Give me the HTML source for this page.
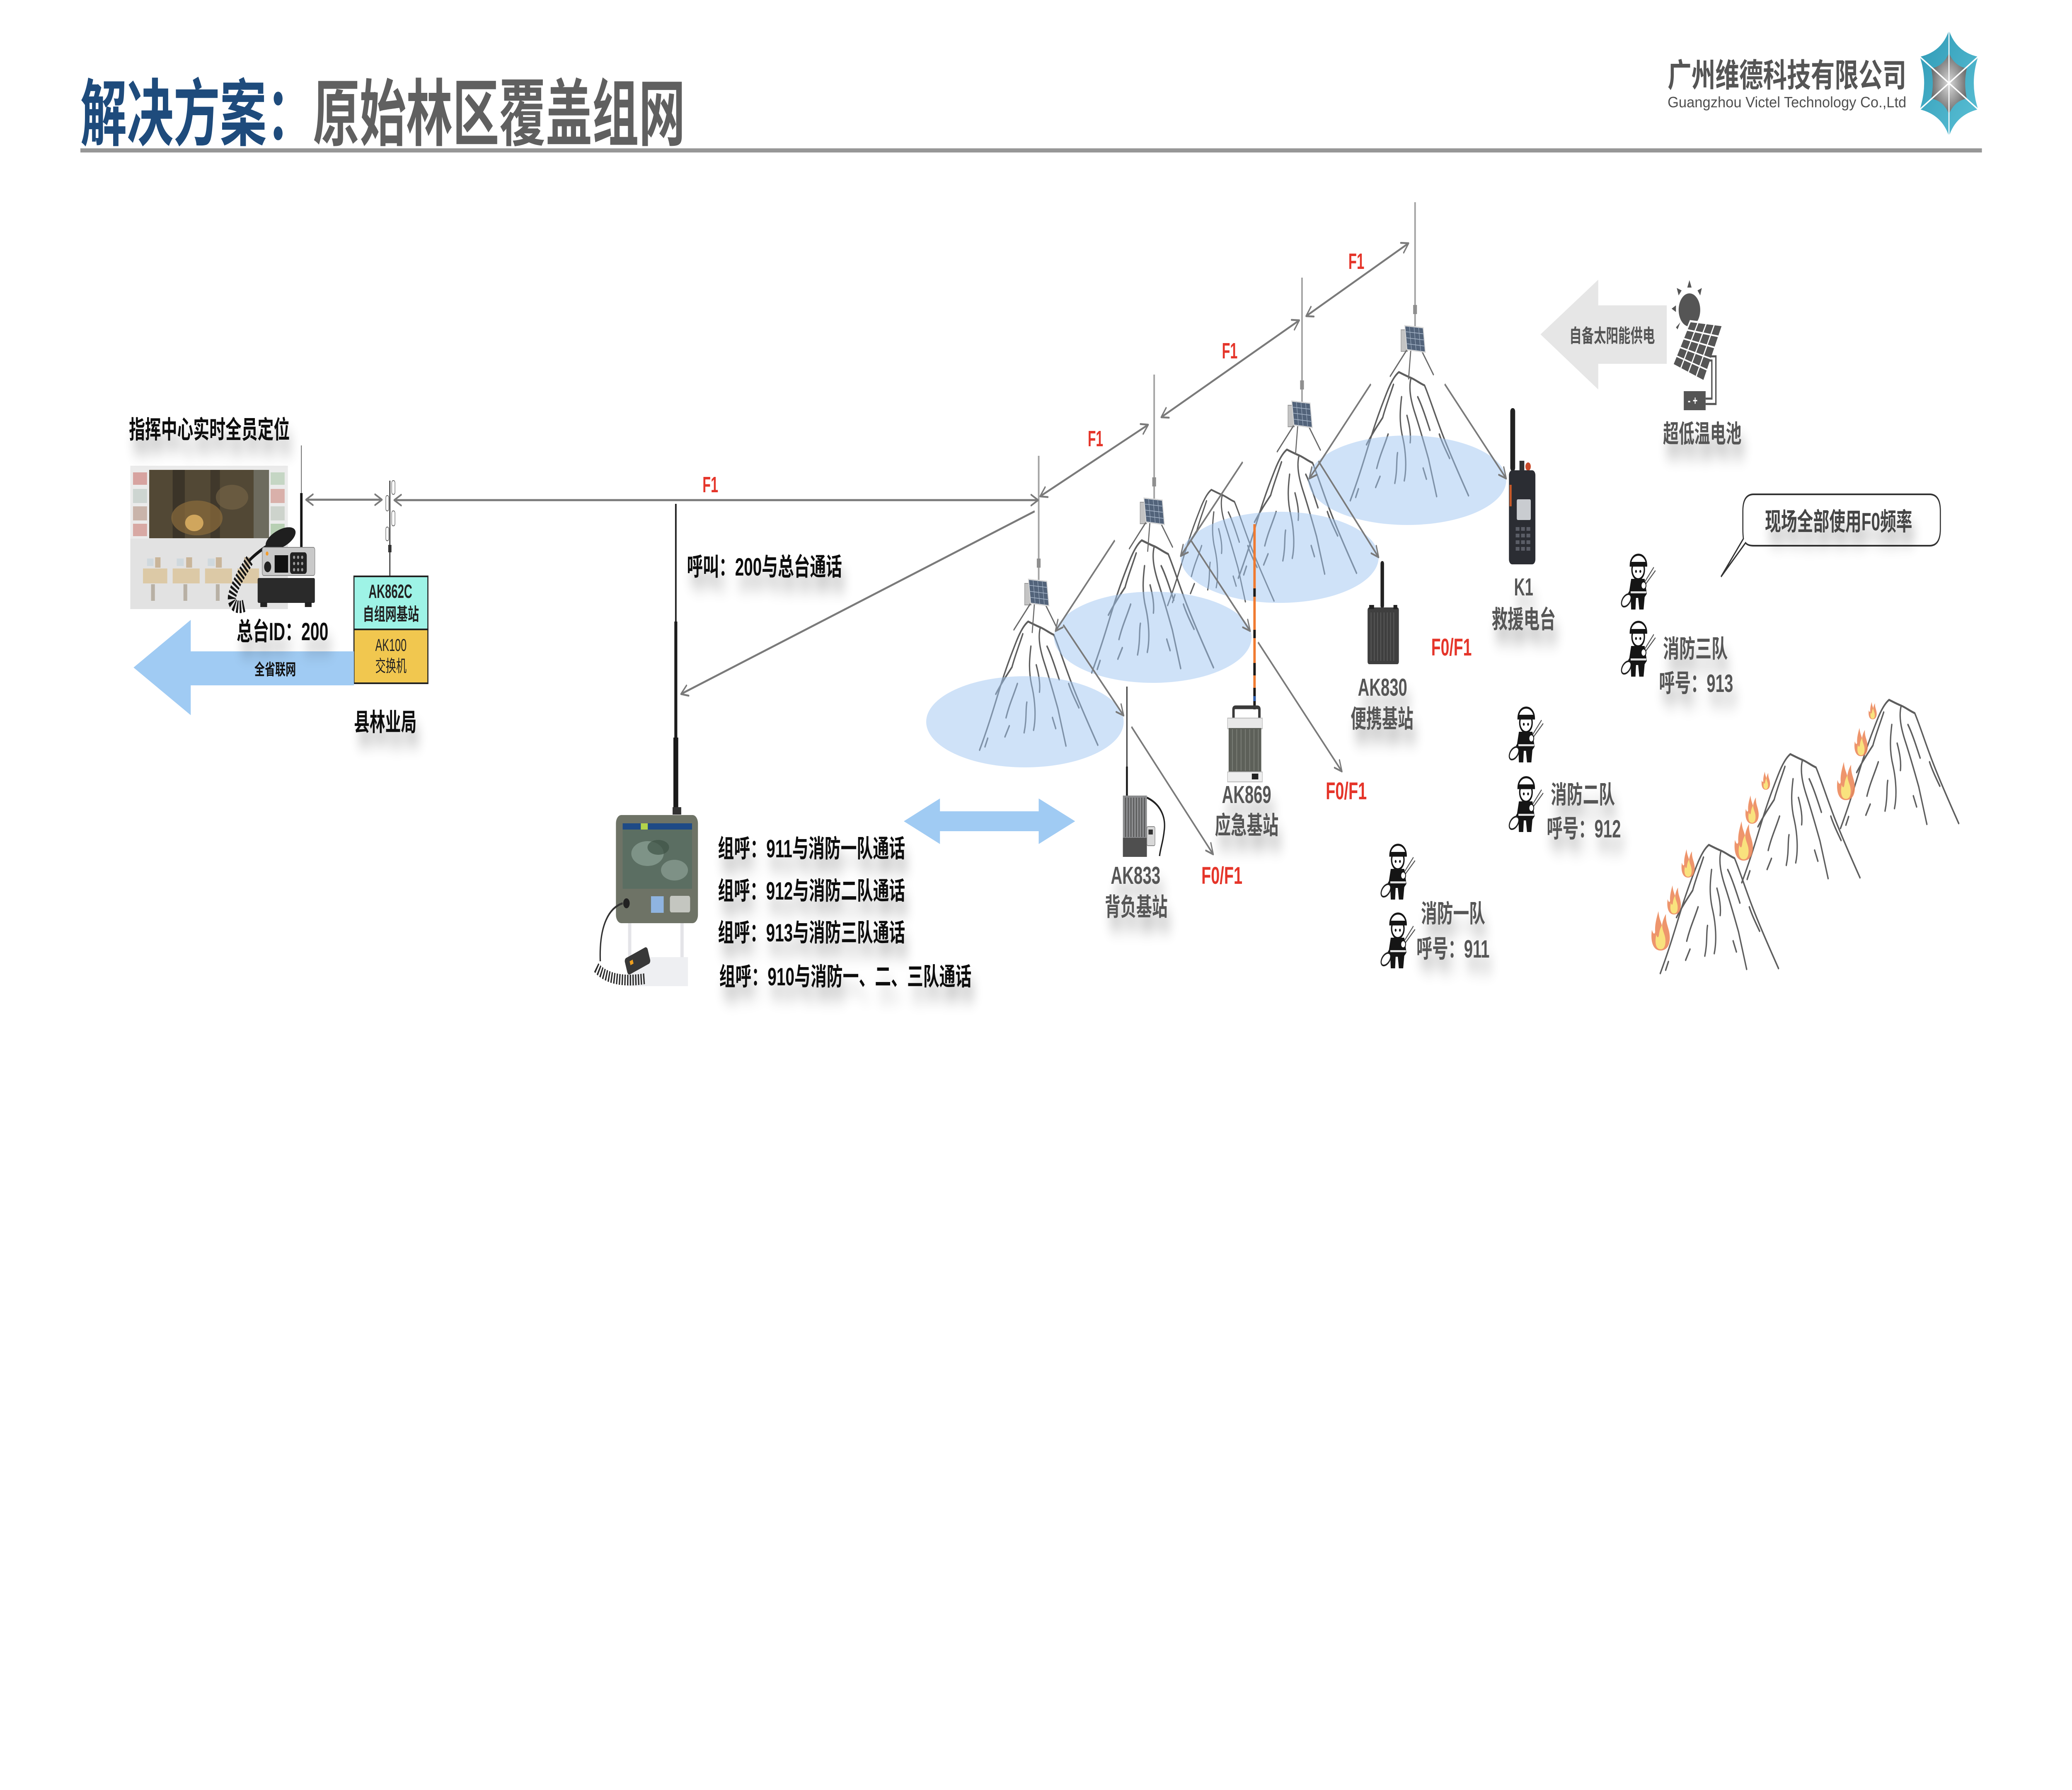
<!DOCTYPE html>
<html lang="zh-CN"><head><meta charset="utf-8"><title>解决方案：原始林区覆盖组网</title>
<style>
html,body{margin:0;padding:0;background:#ffffff;width:100%;height:100%;overflow:hidden;}
svg{display:block;width:100vw;height:100vh;}
text{font-family:"Liberation Sans","Noto Sans CJK SC",sans-serif;}
</style></head><body>
<svg viewBox="0 0 7680 4320" preserveAspectRatio="none" xmlns="http://www.w3.org/2000/svg">
<defs>
<marker id="ah" viewBox="0 0 32 32" refX="29" refY="16" markerWidth="32" markerHeight="32" markerUnits="userSpaceOnUse" orient="auto-start-reverse">
<path d="M3,3 L29,16 L3,29" fill="none" stroke="#7a7a7a" stroke-width="4.5" stroke-linecap="round" stroke-linejoin="round"/>
</marker>
<filter id="sh" x="-30%" y="-60%" width="160%" height="320%">
<feGaussianBlur in="SourceAlpha" stdDeviation="18" result="bl"/>
<feOffset in="bl" dx="12" dy="34" result="of"/>
<feComponentTransfer in="of" result="sd"><feFuncA type="linear" slope="0.3"/></feComponentTransfer>
<feMerge><feMergeNode in="sd"/><feMergeNode in="SourceGraphic"/></feMerge>
</filter>
<radialGradient id="lg" cx="0.5" cy="0.5" r="0.5"><stop offset="0" stop-color="#d9d9d9"/><stop offset="1" stop-color="#6e6e6e"/></radialGradient>
<linearGradient id="tl" x1="0" y1="0" x2="1" y2="1"><stop offset="0" stop-color="#2f9ab6"/><stop offset="1" stop-color="#5cc1d6"/></linearGradient>
<g id="mtn" fill="none" stroke="#5e5e5e" stroke-width="5" stroke-linecap="round" stroke-linejoin="round">
<path d="M-180,310 C-140,240 -115,180 -95,140 C-75,100 -60,75 -45,50 C-30,25 -15,8 0,0 C15,5 30,10 45,14 C60,18 80,28 95,32 C110,55 130,95 150,130 C175,175 215,235 258,298"/>
<path d="M45,14 C35,40 45,70 60,100 C75,130 95,175 110,210 C120,240 130,270 140,300"/>
<path d="M-20,30 C-35,60 -50,85 -60,110 C-80,130 -100,150 -120,175"/>
<path d="M10,60 C5,90 0,120 15,160 C25,190 30,230 20,262"/>
<path d="M-40,150 C-55,180 -70,200 -82,232"/>
<path d="M70,60 C85,80 100,110 115,140"/>
<path d="M-5,195 C-10,215 -5,235 -15,268"/>
<path d="M150,150 C160,170 175,190 188,208"/>
<path d="M-70,252 L-86,278 M90,232 L102,258 M-150,282 L-160,302 M30,105 C40,130 45,150 42,170"/>
</g>
<g id="stn">
<line x1="0" y1="-298" x2="0" y2="2" stroke="#a3a3a3" stroke-width="6"/>
<rect x="-7" y="-50" width="14" height="22" fill="#8f8f8f"/>
<rect x="-52" y="10" width="24" height="52" fill="#c4c4c4" stroke="#9a9a9a" stroke-width="2"/>
<g stroke="#6a6a6a" stroke-width="4" stroke-linecap="round"><line x1="-30" y1="58" x2="-92" y2="122"/><line x1="-16" y1="60" x2="-24" y2="128"/><line x1="24" y1="60" x2="68" y2="118"/></g>
<polygon points="-38,0 30,5 38,64 -30,58" fill="#52637a" stroke="#d8d8d8" stroke-width="3"/>
<g stroke="#a6b5c8" stroke-width="1.6"><line x1="-36" y1="14.5" x2="32" y2="19.7"/><line x1="-34" y1="29" x2="34" y2="34.5"/><line x1="-32" y1="43.5" x2="36" y2="49.2"/><line x1="-21" y1="1.2" x2="-13" y2="59.5"/><line x1="-4" y1="2.5" x2="4" y2="61"/><line x1="13" y1="3.7" x2="21" y2="62.5"/></g>
</g>
<g id="ff">
<path d="M30,118 C45,100 55,92 78,88" fill="none" stroke="#222" stroke-width="12"/>
<path d="M30,118 C45,100 55,92 78,88" fill="none" stroke="#fff" stroke-width="5"/>
<ellipse cx="22" cy="128" rx="20" ry="12" fill="#fff" stroke="#222" stroke-width="4" transform="rotate(-35 22 128)"/>
<path d="M40,76 L90,76 L98,112 L90,120 L86,150 L70,150 L66,122 L58,122 L56,150 L40,150 L38,118 L32,110 Z" fill="#151515"/>
<rect x="38" y="106" width="58" height="5" fill="#e0e0e0"/>
<circle cx="66" cy="54" r="23" fill="#fff" stroke="#151515" stroke-width="5"/>
<path d="M37,44 C37,9 97,9 97,44 Z" fill="#fff" stroke="#151515" stroke-width="5"/>
<rect x="37" y="35" width="60" height="10" fill="#151515"/>
<circle cx="58" cy="58" r="3.5" fill="#151515"/><circle cx="74" cy="58" r="3.5" fill="#151515"/>
<line x1="86" y1="88" x2="124" y2="48" stroke="#555" stroke-width="3"/><line x1="90" y1="92" x2="130" y2="56" stroke="#555" stroke-width="3"/>
<circle cx="86" cy="92" r="9" fill="#fff" stroke="#151515" stroke-width="3"/>
</g>
<g id="flame">
<path d="M0,0 C-30,0 -38,-25 -32,-50 C-28,-40 -22,-38 -20,-45 C-22,-62 -15,-78 -8,-95 C-5,-75 2,-70 5,-60 C8,-72 14,-82 20,-88 C18,-65 32,-55 34,-35 C36,-15 25,0 0,0 Z" fill="#ec8a5c" opacity="0.9"/>
<path d="M0,-3 C-18,-3 -22,-20 -16,-38 C-12,-30 -8,-30 -6,-38 C-4,-50 2,-58 6,-62 C6,-45 20,-38 18,-20 C17,-8 10,-3 0,-3 Z" fill="#f9e27e"/>
</g>
</defs>

<!-- HEADER -->
<text x="298" y="337" font-size="176" font-weight="bold" textLength="2242" lengthAdjust="spacingAndGlyphs"><tspan fill="#1e4b7c">解决方案：</tspan><tspan fill="#606060">原始林区覆盖组网</tspan></text>
<rect x="298" y="358" width="7048" height="10" fill="#979797"/>
<text x="6181" y="209" font-size="78" font-weight="bold" fill="#555555" textLength="885" lengthAdjust="spacingAndGlyphs">广州维德科技有限公司</text>
<text x="6181" y="259" font-size="36" fill="#4f4f4f" textLength="885" lengthAdjust="spacingAndGlyphs">Guangzhou Victel Technology Co.,Ltd</text>
<path d="M7224,73 Q7250,125 7332,137 Q7300,200 7332,264 Q7250,277 7224,329 Q7198,277 7116,264 Q7148,200 7116,137 Q7198,125 7224,73 Z" fill="url(#tl)"/>
<path d="M7224,128 Q7245,160 7290,165 Q7278,200 7290,238 Q7245,243 7224,275 Q7203,243 7158,238 Q7170,200 7158,165 Q7203,160 7224,128 Z" fill="url(#lg)"/>
<g stroke="#ffffff" stroke-width="4"><line x1="7224" y1="73" x2="7224" y2="329"/><line x1="7116" y1="137" x2="7332" y2="264"/><line x1="7332" y1="137" x2="7116" y2="264"/></g>

<!-- LEFT: command center -->
<g>
<rect x="483" y="1124" width="584" height="346" fill="#ebebeb"/>
<rect x="483" y="1300" width="584" height="170" fill="#e2e2e2"/>
<rect x="553" y="1134" width="444" height="165" fill="#524835"/>
<rect x="640" y="1134" width="45" height="165" fill="#3b3428"/>
<rect x="780" y="1134" width="35" height="165" fill="#40382b"/>
<ellipse cx="730" cy="1250" rx="95" ry="42" fill="#8c6c3c" opacity="0.7"/>
<ellipse cx="720" cy="1262" rx="34" ry="20" fill="#e6b866" opacity="0.8"/>
<ellipse cx="860" cy="1200" rx="60" ry="30" fill="#7a6848" opacity="0.6"/>
<rect x="940" y="1134" width="57" height="165" fill="#6d6b5e"/>
<rect x="493" y="1140" width="52" height="30" fill="#d7a3a0"/><rect x="493" y="1180" width="52" height="34" fill="#cdd5d1"/><rect x="493" y="1222" width="52" height="34" fill="#c9b4aa"/><rect x="493" y="1264" width="52" height="30" fill="#d8a9a4"/>
<rect x="1003" y="1140" width="52" height="30" fill="#c5d6c4"/><rect x="1003" y="1180" width="52" height="34" fill="#d9b0aa"/><rect x="1003" y="1222" width="52" height="34" fill="#cdd3cc"/><rect x="1003" y="1264" width="52" height="30" fill="#b7cfb3"/>
<g fill="#dcc9a6"><rect x="530" y="1372" width="90" height="36"/><rect x="640" y="1372" width="100" height="36"/><rect x="760" y="1372" width="100" height="36"/><rect x="880" y="1372" width="80" height="36"/></g>
<g fill="#c9b59a"><rect x="575" y="1345" width="20" height="25"/><rect x="690" y="1345" width="22" height="25"/><rect x="800" y="1345" width="22" height="25"/><rect x="905" y="1345" width="20" height="25"/></g>
<g fill="#cfd8dd"><rect x="545" y="1348" width="24" height="18"/><rect x="655" y="1348" width="26" height="18"/><rect x="770" y="1348" width="26" height="18"/></g>
<g fill="#b8b0a4"><rect x="560" y="1410" width="14" height="40"/><rect x="680" y="1410" width="14" height="40"/><rect x="800" y="1410" width="14" height="40"/></g>
</g>
<!-- command radio -->
<g>
<line x1="1117" y1="1075" x2="1117" y2="1195" stroke="#6a6a6a" stroke-width="3"/>
<line x1="1117" y1="1190" x2="1117" y2="1322" stroke="#151515" stroke-width="9"/>
<path d="M925,1352 C900,1380 870,1410 860,1440 C855,1460 880,1470 905,1462" fill="none" stroke="#151515" stroke-width="30" stroke-dasharray="6 5"/>
<path d="M990,1318 C960,1330 935,1345 925,1352" fill="none" stroke="#151515" stroke-width="8"/>
<ellipse cx="1040" cy="1300" rx="58" ry="22" fill="#1f1f1f" transform="rotate(-18 1040 1300)"/>
<rect x="955" y="1395" width="212" height="60" rx="4" fill="#2a2a2a"/>
<rect x="965" y="1453" width="25" height="12" fill="#222"/><rect x="1130" y="1453" width="25" height="12" fill="#222"/>
<rect x="972" y="1321" width="195" height="68" rx="6" fill="#c9c9c9" stroke="#8a8a8a" stroke-width="2"/>
<rect x="1018" y="1340" width="50" height="42" fill="#111"/>
<rect x="1075" y="1333" width="62" height="52" rx="8" fill="#222"/>
<g fill="#999"><circle cx="1090" cy="1345" r="4"/><circle cx="1105" cy="1345" r="4"/><circle cx="1120" cy="1345" r="4"/><circle cx="1090" cy="1360" r="4"/><circle cx="1105" cy="1360" r="4"/><circle cx="1120" cy="1360" r="4"/><circle cx="1090" cy="1375" r="4"/><circle cx="1105" cy="1375" r="4"/><circle cx="1120" cy="1375" r="4"/></g>
<circle cx="992" cy="1368" r="13" fill="#222"/>
<circle cx="990" cy="1336" r="5" fill="#f39c2c"/>
</g>
<!-- tower -->
<g>
<line x1="1445" y1="1160" x2="1445" y2="1391" stroke="#333" stroke-width="4"/>
<g fill="#fff" stroke="#666" stroke-width="2"><rect x="1430" y="1196" width="11" height="37" rx="5"/><rect x="1452" y="1160" width="12" height="33" rx="5"/><rect x="1452" y="1233" width="12" height="36" rx="5"/><rect x="1430" y="1272" width="11" height="33" rx="5"/></g>
<rect x="1439" y="1315" width="12" height="18" fill="#333"/>
</g>
<!-- AK862C box -->
<rect x="1312" y="1391" width="274" height="128" fill="#9ef3e6" stroke="#222" stroke-width="4"/>
<rect x="1312" y="1519" width="274" height="130" fill="#f1c74f" stroke="#222" stroke-width="4"/>
<text x="1366" y="1443" font-size="46" font-weight="bold" fill="#222" textLength="162" lengthAdjust="spacingAndGlyphs">AK862C</text>
<text x="1345" y="1497" font-size="42" font-weight="bold" fill="#222" textLength="208" lengthAdjust="spacingAndGlyphs">自组网基站</text>
<text x="1391" y="1571" font-size="42" fill="#222" textLength="116" lengthAdjust="spacingAndGlyphs">AK100</text>
<text x="1391" y="1621" font-size="40" fill="#222" textLength="116" lengthAdjust="spacingAndGlyphs">交换机</text>
<!-- big blue arrow -->
<polygon points="495,1611 707,1496 707,1572 1312,1572 1312,1654 707,1654 707,1726" fill="#a0cbf3"/>
<text x="943" y="1629" font-size="38" font-weight="bold" fill="#111" textLength="154" lengthAdjust="spacingAndGlyphs">全省联网</text>

<g filter="url(#sh)" font-weight="bold" fill="#111">
<text x="478" y="1058" font-size="60" textLength="596" lengthAdjust="spacingAndGlyphs">指挥中心实时全员定位</text>
<text x="877" y="1545" font-size="60" textLength="340" lengthAdjust="spacingAndGlyphs">总台ID：200</text>
<text x="1312" y="1764" font-size="60" textLength="232" lengthAdjust="spacingAndGlyphs">县林业局</text>
<text x="2546" y="1389" font-size="60" textLength="575" lengthAdjust="spacingAndGlyphs">呼叫：200与总台通话</text>
<text x="2661" y="2069" font-size="60" textLength="694" lengthAdjust="spacingAndGlyphs">组呼：911与消防一队通话</text>
<text x="2661" y="2171" font-size="60" textLength="694" lengthAdjust="spacingAndGlyphs">组呼：912与消防二队通话</text>
<text x="2661" y="2272" font-size="60" textLength="694" lengthAdjust="spacingAndGlyphs">组呼：913与消防三队通话</text>
<text x="2666" y="2378" font-size="60" textLength="935" lengthAdjust="spacingAndGlyphs">组呼：910与消防一、二、三队通话</text>
</g>

<!-- tablet device -->
<g>
<line x1="2505" y1="1216" x2="2505" y2="1500" stroke="#222" stroke-width="6"/>
<line x1="2505" y1="1500" x2="2505" y2="1780" stroke="#1c1c1c" stroke-width="11"/>
<line x1="2505" y1="1780" x2="2505" y2="1955" stroke="#1a1a1a" stroke-width="18"/>
<rect x="2493" y="1948" width="32" height="18" fill="#333"/>
<rect x="2328" y="2220" width="12" height="100" fill="#e4e4e8"/><rect x="2522" y="2220" width="12" height="100" fill="#e4e4e8"/>
<rect x="2327" y="2310" width="223" height="70" fill="#eeeff2"/>
<rect x="2283" y="1967" width="304" height="261" rx="20" fill="#6e7366"/>
<rect x="2308" y="1987" width="257" height="158" fill="#5b6e62"/>
<rect x="2308" y="1987" width="257" height="15" fill="#1e4a86"/>
<rect x="2375" y="1987" width="26" height="15" fill="#b4d34a"/>
<ellipse cx="2400" cy="2060" rx="60" ry="30" fill="#8da297" opacity="0.7"/>
<ellipse cx="2500" cy="2100" rx="50" ry="25" fill="#96a99e" opacity="0.6"/>
<ellipse cx="2440" cy="2045" rx="40" ry="18" fill="#3e5246" opacity="0.7"/>
<rect x="2413" y="2163" width="47" height="40" fill="#8fb4e0"/>
<rect x="2483" y="2162" width="75" height="40" rx="6" fill="#c4c6c0"/>
<circle cx="2322" cy="2180" r="12" fill="#222"/>
<path d="M2308,2180 C2260,2190 2220,2230 2225,2320" fill="none" stroke="#333" stroke-width="5"/>
<path d="M2210,2335 C2250,2365 2320,2370 2390,2362" fill="none" stroke="#2b2b2b" stroke-width="26" stroke-dasharray="5 5"/>
<rect x="2318" y="2298" width="90" height="42" rx="8" fill="#383838" transform="rotate(-20 2363 2319)"/>
<rect x="2335" y="2310" width="12" height="10" fill="#f0a020" transform="rotate(-20 2363 2319)"/>
</g>

<!-- mountains -->
<use href="#mtn" transform="translate(3811,1500)"/>
<use href="#mtn" transform="translate(4232,1304) scale(1.03)"/>
<use href="#mtn" transform="translate(4490,1182) scale(0.9)"/>
<use href="#mtn" transform="translate(4770,1085)"/>
<use href="#mtn" transform="translate(5185,898)"/>
<!-- coverage ellipses -->
<g fill="rgb(159,197,241)" fill-opacity="0.5">
<ellipse cx="3799" cy="1742" rx="366" ry="110"/>
<ellipse cx="4273" cy="1538" rx="366" ry="110"/>
<ellipse cx="4743" cy="1345" rx="367" ry="110"/>
<ellipse cx="5216" cy="1159" rx="367" ry="108"/>
</g>
<!-- stations -->
<use href="#stn" transform="translate(3850,1398)"/>
<use href="#stn" transform="translate(4278,1202)"/>
<use href="#stn" transform="translate(4826,968)"/>
<use href="#stn" transform="translate(5245,786)"/>

<!-- connector lines -->
<g stroke="#7a7a7a" stroke-width="5" fill="none">
<line x1="1134" y1="1206" x2="1416" y2="1206" marker-start="url(#ah)" marker-end="url(#ah)"/>
<line x1="1461" y1="1207" x2="3848" y2="1207" marker-start="url(#ah)" marker-end="url(#ah)"/>
<line x1="3835" y1="1234" x2="2524" y2="1675" marker-end="url(#ah)"/>
<line x1="3855" y1="1198" x2="4256" y2="1025" marker-start="url(#ah)" marker-end="url(#ah)"/>
<line x1="4304" y1="1007" x2="4816" y2="773" marker-start="url(#ah)" marker-end="url(#ah)"/>
<line x1="4841" y1="763" x2="5221" y2="587" marker-start="url(#ah)" marker-end="url(#ah)"/>
<line x1="3941" y1="1508" x2="4165" y2="1727" marker-end="url(#ah)"/>
<line x1="4194" y1="1754" x2="4497" y2="2062" marker-end="url(#ah)"/>
<line x1="4132" y1="1304" x2="3912" y2="1523" marker-end="url(#ah)"/>
<line x1="4414" y1="1304" x2="4634" y2="1523" marker-end="url(#ah)"/>
<line x1="4663" y1="1550" x2="4974" y2="1862" marker-end="url(#ah)"/>
<line x1="4606" y1="1115" x2="4376" y2="1342" marker-end="url(#ah)"/>
<line x1="4887" y1="1113" x2="5110" y2="1345" marker-end="url(#ah)"/>
<line x1="5081" y1="927" x2="4853" y2="1155" marker-end="url(#ah)"/>
<line x1="5355" y1="927" x2="5583" y2="1155" marker-end="url(#ah)"/>
</g>

<!-- double blue arrow -->
<polygon points="3350,1982 3484,1927 3484,1958 3850,1958 3850,1927 3985,1982 3850,2037 3850,2006 3484,2006 3484,2037" fill="#a0cbf3"/>

<!-- F labels -->
<g font-weight="bold" fill="#e5352a">
<text x="2604" y="1188" font-size="54" textLength="58" lengthAdjust="spacingAndGlyphs">F1</text>
<text x="4032" y="1077" font-size="54" textLength="57" lengthAdjust="spacingAndGlyphs">F1</text>
<text x="4529" y="865" font-size="54" textLength="58" lengthAdjust="spacingAndGlyphs">F1</text>
<text x="4998" y="649" font-size="54" textLength="59" lengthAdjust="spacingAndGlyphs">F1</text>
<text x="4453" y="2133" font-size="58" textLength="152" lengthAdjust="spacingAndGlyphs">F0/F1</text>
<text x="4914" y="1929" font-size="58" textLength="152" lengthAdjust="spacingAndGlyphs">F0/F1</text>
<text x="5305" y="1582" font-size="58" textLength="150" lengthAdjust="spacingAndGlyphs">F0/F1</text>
</g>

<!-- AK833 -->
<g>
<line x1="4177" y1="1657" x2="4177" y2="1850" stroke="#222" stroke-width="4"/>
<line x1="4177" y1="1850" x2="4177" y2="1921" stroke="#1a1a1a" stroke-width="7"/>
<path d="M4251,1925 C4300,1940 4320,1970 4316,2000 C4312,2030 4300,2050 4298,2066" fill="none" stroke="#222" stroke-width="5"/>
<rect x="4162" y="1920" width="89" height="102" fill="#8a8b8d"/>
<g stroke="#4a4a4a" stroke-width="3"><line x1="4172" y1="1925" x2="4172" y2="2020"/><line x1="4182" y1="1925" x2="4182" y2="2020"/><line x1="4192" y1="1925" x2="4192" y2="2020"/><line x1="4202" y1="1925" x2="4202" y2="2020"/><line x1="4212" y1="1925" x2="4212" y2="2020"/><line x1="4222" y1="1925" x2="4222" y2="2020"/><line x1="4232" y1="1925" x2="4232" y2="2020"/><line x1="4242" y1="1925" x2="4242" y2="2020"/></g>
<rect x="4162" y="2022" width="89" height="46" fill="#4f4f4f"/>
<rect x="4251" y="1995" width="30" height="46" rx="4" fill="#d8d8d8" stroke="#888" stroke-width="2"/>
<rect x="4257" y="2002" width="16" height="12" fill="#333"/>
</g>
<!-- AK869 -->
<g>
<line x1="4650" y1="1265" x2="4650" y2="1712" stroke="#f07a30" stroke-width="9"/>
<g stroke="#1a1a1a" stroke-width="9"><line x1="4650" y1="1420" x2="4650" y2="1440"/><line x1="4650" y1="1520" x2="4650" y2="1540"/><line x1="4650" y1="1600" x2="4650" y2="1630"/><line x1="4650" y1="1660" x2="4650" y2="1712"/></g>
<line x1="4650" y1="1680" x2="4650" y2="1692" stroke="#2d5fb0" stroke-width="9"/>
<path d="M4572,1740 V1712 Q4572,1707 4580,1707 H4660 Q4668,1707 4668,1712 V1740" fill="none" stroke="#3a3a3a" stroke-width="9"/>
<rect x="4550" y="1733" width="129" height="26" fill="#e8e8e8" stroke="#bbb" stroke-width="2"/>
<rect x="4554" y="1757" width="121" height="106" fill="#5d6059"/>
<g stroke="#7b7e77" stroke-width="3"><line x1="4568" y1="1760" x2="4568" y2="1860"/><line x1="4584" y1="1760" x2="4584" y2="1860"/><line x1="4600" y1="1760" x2="4600" y2="1860"/><line x1="4616" y1="1760" x2="4616" y2="1860"/><line x1="4632" y1="1760" x2="4632" y2="1860"/><line x1="4648" y1="1760" x2="4648" y2="1860"/><line x1="4664" y1="1760" x2="4664" y2="1860"/></g>
<rect x="4550" y="1863" width="129" height="24" fill="#eeeeee" stroke="#bbb" stroke-width="2"/>
<rect x="4640" y="1867" width="24" height="14" fill="#222"/>
</g>
<!-- AK830 -->
<g>
<rect x="5117" y="1354" width="13" height="114" rx="6" fill="#222"/>
<rect x="5069" y="1466" width="116" height="137" rx="6" fill="#3f3f3f"/>
<g stroke="#5a5a5a" stroke-width="3"><line x1="5082" y1="1478" x2="5082" y2="1595"/><line x1="5094" y1="1478" x2="5094" y2="1595"/><line x1="5106" y1="1478" x2="5106" y2="1595"/><line x1="5118" y1="1478" x2="5118" y2="1595"/><line x1="5130" y1="1478" x2="5130" y2="1595"/><line x1="5142" y1="1478" x2="5142" y2="1595"/><line x1="5154" y1="1478" x2="5154" y2="1595"/><line x1="5166" y1="1478" x2="5166" y2="1595"/></g>
<rect x="5075" y="1460" width="18" height="10" fill="#222"/><rect x="5165" y="1460" width="14" height="10" fill="#222"/>
</g>
<!-- K1 -->
<g>
<rect x="5598" y="985" width="18" height="152" rx="8" fill="#222"/>
<rect x="5632" y="1112" width="18" height="28" fill="#333"/>
<circle cx="5664" cy="1126" r="10" fill="#c94a2a"/>
<rect x="5593" y="1135" width="98" height="227" rx="12" fill="#2b2d33"/>
<rect x="5595" y="1170" width="8" height="52" fill="#c85a2a"/>
<rect x="5622" y="1205" width="52" height="50" rx="4" fill="#c9ccd0"/>
<g fill="#5a5d66"><rect x="5618" y="1272" width="14" height="9"/><rect x="5638" y="1272" width="14" height="9"/><rect x="5658" y="1272" width="14" height="9"/><rect x="5618" y="1288" width="14" height="9"/><rect x="5638" y="1288" width="14" height="9"/><rect x="5658" y="1288" width="14" height="9"/><rect x="5618" y="1304" width="14" height="9"/><rect x="5638" y="1304" width="14" height="9"/><rect x="5658" y="1304" width="14" height="9"/><rect x="5618" y="1320" width="14" height="9"/><rect x="5638" y="1320" width="14" height="9"/><rect x="5658" y="1320" width="14" height="9"/></g>
</g>

<!-- device labels -->
<g filter="url(#sh)" font-weight="bold" fill="#575757">
<text x="4117" y="2133" font-size="59" textLength="184" lengthAdjust="spacingAndGlyphs">AK833</text>
<text x="4095" y="2210" font-size="60" textLength="233" lengthAdjust="spacingAndGlyphs">背负基站</text>
<text x="4529" y="1938" font-size="59" textLength="183" lengthAdjust="spacingAndGlyphs">AK869</text>
<text x="4503" y="2013" font-size="60" textLength="236" lengthAdjust="spacingAndGlyphs">应急基站</text>
<text x="5033" y="1679" font-size="59" textLength="183" lengthAdjust="spacingAndGlyphs">AK830</text>
<text x="5006" y="1756" font-size="60" textLength="233" lengthAdjust="spacingAndGlyphs">便携基站</text>
<text x="5612" y="1437" font-size="59" textLength="71" lengthAdjust="spacingAndGlyphs">K1</text>
<text x="5529" y="1516" font-size="60" textLength="237" lengthAdjust="spacingAndGlyphs">救援电台</text>
<text x="6164" y="1587" font-size="60" textLength="240" lengthAdjust="spacingAndGlyphs">消防三队</text>
<text x="6149" y="1670" font-size="60" textLength="275" lengthAdjust="spacingAndGlyphs">呼号：913</text>
<text x="5748" y="1939" font-size="60" textLength="238" lengthAdjust="spacingAndGlyphs">消防二队</text>
<text x="5733" y="2021" font-size="60" textLength="275" lengthAdjust="spacingAndGlyphs">呼号：912</text>
<text x="5267" y="2226" font-size="60" textLength="238" lengthAdjust="spacingAndGlyphs">消防一队</text>
<text x="5250" y="2311" font-size="60" textLength="271" lengthAdjust="spacingAndGlyphs">呼号：911</text>
<text x="6164" y="1068" font-size="60" textLength="291" lengthAdjust="spacingAndGlyphs">超低温电池</text>
</g>

<!-- firefighters -->
<use href="#ff" transform="translate(6006,1321)"/>
<use href="#ff" transform="translate(6006,1483)"/>
<use href="#ff" transform="translate(5590,1690)"/>
<use href="#ff" transform="translate(5590,1858)"/>
<use href="#ff" transform="translate(5115,2021)"/>
<use href="#ff" transform="translate(5115,2187)"/>

<!-- solar arrow -->
<polygon points="5710,807 5924,675 5924,737 6178,737 6178,878 5924,878 5924,940" fill="#e6e6e6"/>
<text x="5817" y="826" font-size="45" font-weight="bold" fill="#555" textLength="317" lengthAdjust="spacingAndGlyphs">自备太阳能供电</text>
<!-- solar + battery icon -->
<g>
<circle cx="6262" cy="748" r="40" fill="#555"/>
<g fill="#555"><polygon points="6262,676 6254,694 6270,694"/><polygon points="6215,695 6222,713 6233,701"/><polygon points="6196,745 6212,737 6212,753"/><polygon points="6308,695 6292,701 6302,713"/><polygon points="6212,790 6228,778 6218,795"/></g>
<polygon points="6265,775 6385,785 6315,920 6200,880" fill="#555" stroke="#fff" stroke-width="5"/>
<g stroke="#fff" stroke-width="4"><line x1="6252" y1="796" x2="6371" y2="812"/><line x1="6239" y1="817" x2="6357" y2="839"/><line x1="6226" y1="838" x2="6343" y2="866"/><line x1="6213" y1="859" x2="6329" y2="893"/><line x1="6295" y1="777" x2="6229" y2="890"/><line x1="6325" y1="780" x2="6257" y2="900"/><line x1="6355" y1="782" x2="6286" y2="910"/></g>
<path d="M6340,860 H6360 V975 H6322" fill="none" stroke="#555" stroke-width="5"/>
<path d="M6325,870 H6345 V962 H6322" fill="none" stroke="#555" stroke-width="5"/>
<rect x="6241" y="944" width="81" height="46" fill="#555"/>
<text x="6256" y="977" font-size="30" font-weight="bold" fill="#fff">- +</text>
</g>

<!-- callout -->
<path d="M6500,1193 H7152 Q7192,1193 7192,1233 V1277 Q7192,1317 7152,1317 H6500 Q6478,1317 6470,1310 L6379,1392 L6462,1300 Q6460,1290 6460,1277 V1233 Q6460,1193 6500,1193 Z" fill="#fff" stroke="#333" stroke-width="4"/>
<text x="6542" y="1280" font-size="60" font-weight="bold" fill="#444" textLength="546" lengthAdjust="spacingAndGlyphs" filter="url(#sh)">现场全部使用F0频率</text>

<!-- fire mountains -->
<use href="#mtn" transform="translate(6334,2039)"/>
<use href="#mtn" transform="translate(6636,1820)"/>
<use href="#mtn" transform="translate(7002,1689)"/>
<use href="#flame" transform="translate(6155,2294) scale(1)"/>
<use href="#flame" transform="translate(6205,2207) scale(0.74)"/>
<use href="#flame" transform="translate(6257,2118) scale(0.72)"/>
<use href="#flame" transform="translate(6463,2077) scale(1)"/>
<use href="#flame" transform="translate(6494,1988) scale(0.72)"/>
<use href="#flame" transform="translate(6545,1906) scale(0.46)"/>
<use href="#flame" transform="translate(6842,1931) scale(0.97)"/>
<use href="#flame" transform="translate(6898,1825) scale(0.72)"/>
<use href="#flame" transform="translate(6941,1736) scale(0.44)"/>
</svg>
</body></html>
